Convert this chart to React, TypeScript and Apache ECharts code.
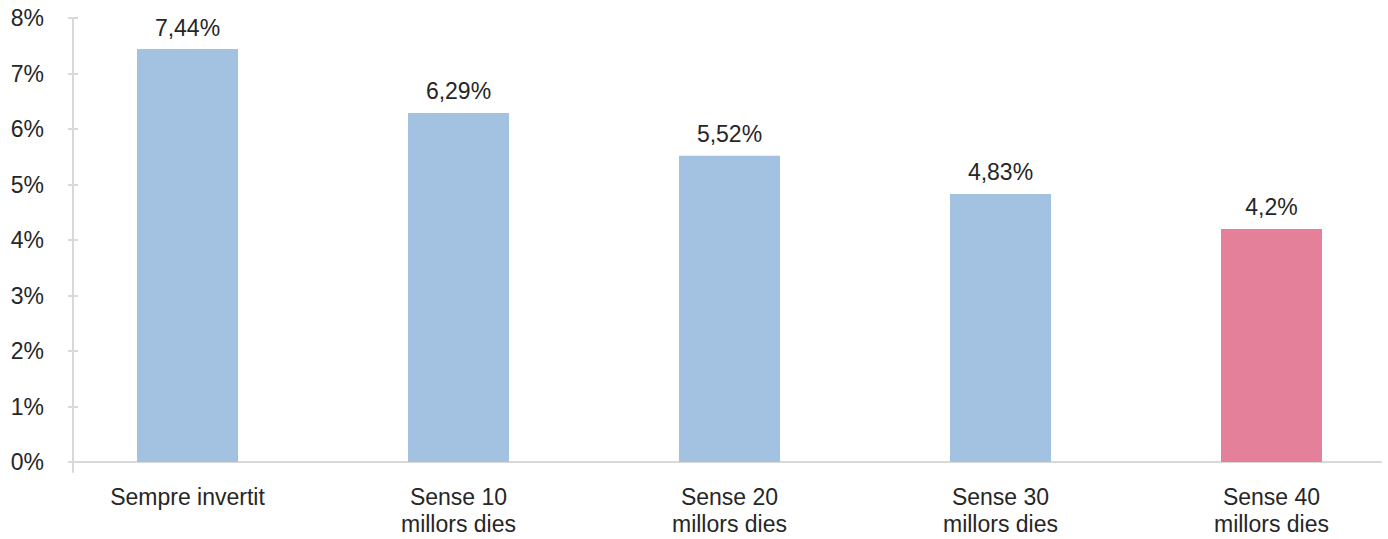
import React, { useEffect, useRef } from "react";
import * as echarts from "echarts";

const categories = [
  "Sempre invertit",
  "Sense 10\nmillors dies",
  "Sense 20\nmillors dies",
  "Sense 30\nmillors dies",
  "Sense 40\nmillors dies",
];
const values = [7.44, 6.29, 5.52, 4.83, 4.2];
const barColors = ["#A3C1E0", "#A3C1E0", "#A3C1E0", "#A3C1E0", "#E5809B"];
const yTicks = [0, 1, 2, 3, 4, 5, 6, 7, 8];

const FONT = "'Liberation Sans', Arial, sans-serif";
const TEXT = "#262626";
const AXIS = "#D9D9D9";
const FS = 23;
const CHART_W = 1420;

export default function App() {
  const ref = useRef<HTMLDivElement>(null);
  useEffect(() => {
    if (!ref.current) return;
    const chart = echarts.init(ref.current, undefined, { renderer: "svg" });
    const yMin = yTicks[0];
    const yMax = yTicks[yTicks.length - 1];
    chart.setOption({
      animation: false,
      textStyle: { fontFamily: FONT },
      grid: [
        { left: 52, right: CHART_W - 1407, top: 18, bottom: 77 },
        { left: 73, right: CHART_W - 1381, top: 18, bottom: 77 },
        { left: 73, right: CHART_W - 1381, top: 18, bottom: 67 },
      ],
      xAxis: [
        {
          type: "category",
          gridIndex: 0,
          data: categories,
          axisLine: { show: false },
          axisTick: { show: false },
          axisLabel: {
            color: TEXT,
            fontSize: FS,
            lineHeight: 27,
            margin: 21,
            fontFamily: FONT,
            interval: 0,
          },
        },
        {
          type: "category",
          gridIndex: 1,
          data: categories,
          axisLine: { show: true, lineStyle: { color: AXIS, width: 2 } },
          axisTick: { show: false },
          axisLabel: { show: false },
        },
        {
          type: "category",
          gridIndex: 2,
          data: categories,
          show: false,
        },
      ],
      yAxis: [
        {
          type: "value",
          gridIndex: 0,
          min: yMin,
          max: yMax,
          interval: 1,
          show: false,
        },
        {
          type: "value",
          gridIndex: 1,
          min: yMin,
          max: yMax,
          interval: 1,
          axisLine: { show: false },
          axisTick: { show: true, length: 5, lineStyle: { color: AXIS, width: 2 } },
          splitLine: { show: false },
          axisLabel: {
            color: TEXT,
            fontSize: FS,
            margin: 29,
            fontFamily: FONT,
            formatter: (v: number) => `${v}%`,
          },
        },
        {
          type: "value",
          gridIndex: 1,
          min: yMin,
          max: yMax,
          interval: 1,
          position: "left",
          axisLine: { show: false },
          axisTick: { show: true, inside: true, length: 5, lineStyle: { color: AXIS, width: 2 } },
          splitLine: { show: false },
          axisLabel: { show: false },
        },
        {
          type: "value",
          gridIndex: 2,
          min: yMin,
          max: yMax,
          axisLine: { show: true, lineStyle: { color: AXIS, width: 2 } },
          axisTick: { show: false },
          splitLine: { show: false },
          axisLabel: { show: false },
        },
      ],
      series: [
        {
          type: "bar",
          xAxisIndex: 0,
          yAxisIndex: 0,
          barWidth: 101,
          data: values.map((v, i) => ({ value: v, itemStyle: { color: barColors[i] } })),
          label: {
            show: true,
            position: "top",
            distance: 10,
            color: TEXT,
            fontSize: FS,
            fontFamily: FONT,
            formatter: (p: any) => `${String(p.value).replace(".", ",")}%`,
          },
        },
      ],
    });
    return () => chart.dispose();
  }, []);
  return (
    <div
      style={{
        position: "absolute",
        left: 0,
        top: 0,
        width: 1388,
        height: 539,
        overflow: "hidden",
        background: "#fff",
      }}
    >
      <div ref={ref} style={{ width: CHART_W, height: 539 }} />
    </div>
  );
}
